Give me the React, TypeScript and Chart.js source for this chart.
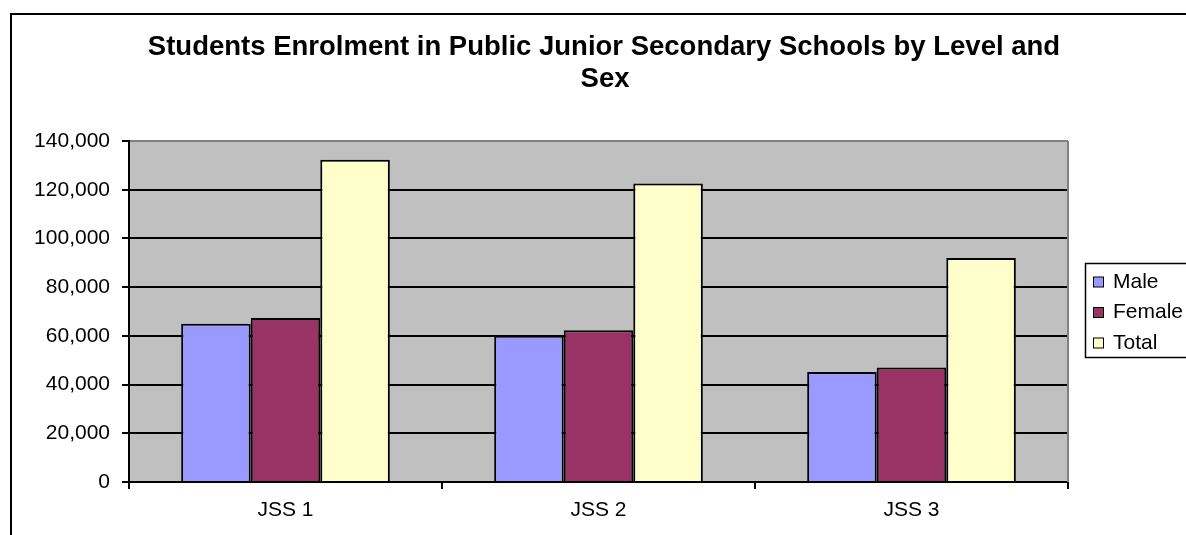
import React, { useEffect, useRef } from "react";
import { Chart, registerables } from "chart.js";

Chart.register(...registerables);

const categories = ["JSS 1", "JSS 2", "JSS 3"];
const seriesNames = ["Male", "Female", "Total"];
const maleValues = [65000, 60000, 45200];
const femaleValues = [67300, 62300, 47000];
const totalValues = [132300, 122600, 92000];
const seriesColors = ["#9999FF", "#993366", "#FFFFCC"];
const titleLines = [
  "Students Enrolment in Public Junior Secondary Schools by Level and",
  "Sex",
];
const yMin = 0;
const yMax = 140000;
const yStep = 20000;

const FONT = '"Liberation Sans", Arial, sans-serif';

const framePlugin = {
  id: "frame",
  beforeDraw(chart: any) {
    const { ctx, chartArea: a } = chart;
    ctx.save();
    ctx.fillStyle = "#ffffff";
    ctx.fillRect(0, 0, chart.width, chart.height);
    ctx.fillStyle = "#c0c0c0";
    ctx.fillRect(a.left, a.top, a.right - a.left, a.bottom - a.top);
    // outer chart frame
    ctx.strokeStyle = "#000";
    ctx.lineWidth = 2;
    ctx.beginPath();
    ctx.moveTo(11, chart.height + 5);
    ctx.lineTo(11, 14);
    ctx.lineTo(chart.width + 5, 14);
    ctx.stroke();
    // title
    ctx.fillStyle = "#000";
    ctx.font = `bold 27.5px ${FONT}`;
    ctx.textAlign = "center";
    ctx.textBaseline = "alphabetic";
    ctx.fillText(titleLines[0], 604, 55);
    ctx.fillText(titleLines[1], 605, 87);
    ctx.restore();
  },
  afterDraw(chart: any) {
    const { ctx, chartArea: a } = chart;
    ctx.save();
    // plot right border (gray)
    ctx.strokeStyle = "#808080";
    ctx.lineWidth = 2;
    ctx.beginPath();
    ctx.moveTo(a.right, a.top);
    ctx.lineTo(a.right, a.bottom);
    ctx.stroke();
    // legend
    const lx = 1085.5;
    const ly = 263.5;
    ctx.fillStyle = "#fff";
    ctx.fillRect(lx, ly, 200, 94);
    ctx.strokeStyle = "#000";
    ctx.lineWidth = 1.5;
    ctx.strokeRect(lx, ly, 200, 94);
    ctx.font = `21px ${FONT}`;
    ctx.textAlign = "left";
    ctx.textBaseline = "alphabetic";
    chart.data.datasets.forEach((ds: any, i: number) => {
      const base = 287.5 + i * 30.5;
      ctx.fillStyle = ds.backgroundColor;
      ctx.fillRect(1093.5, base - 10.5, 10, 10);
      ctx.lineWidth = 1;
      ctx.strokeStyle = "#000";
      ctx.strokeRect(1093.5, base - 10.5, 10, 10);
      ctx.fillStyle = "#000";
      ctx.fillText(ds.label, 1113, base);
    });
    ctx.restore();
  },
};

export default function App() {
  const ref = useRef<HTMLCanvasElement | null>(null);
  useEffect(() => {
    if (!ref.current) return;
    const values = [maleValues, femaleValues, totalValues];
    const chart = new Chart(ref.current, {
      type: "bar",
      data: {
        labels: categories,
        datasets: seriesNames.map((name, i) => ({
          label: name,
          data: values[i],
          backgroundColor: seriesColors[i],
          borderColor: "#000",
          borderWidth: 2,
          categoryPercentage: 0.6667,
          barPercentage: 1,
        })),
      },
      options: {
        responsive: false,
        animation: false,
        devicePixelRatio: 1,
        layout: { padding: { left: 0, top: 141, right: 118, bottom: 0 } },
        plugins: {
          legend: { display: false },
          tooltip: { enabled: false },
          title: { display: false },
        },
        scales: {
          x: {
            offset: true,
            grid: {
              offset: true,
              drawOnChartArea: false,
              drawTicks: true,
              tickLength: 7,
              color: "#000",
              lineWidth: 2,
            },
            border: { display: true, color: "#000", width: 2 },
            ticks: {
              color: "#000",
              font: { family: FONT, size: 21 },
              padding: 9,
            },
            afterFit(axis: any) {
              axis.height = 53;
            },
          },
          y: {
            min: yMin,
            max: yMax,
            ticks: {
              stepSize: yStep,
              color: "#000",
              font: { family: FONT, size: 21 },
              padding: 12,
              callback: (v: any) => Number(v).toLocaleString("en-US"),
            },
            grid: {
              color: (c: any) => (c.tick && c.tick.value === yMax ? "#808080" : "#000"),
              tickColor: "#000",
              lineWidth: 2,
              tickLength: 7,
            },
            border: { display: true, color: "#000", width: 2 },
            afterFit(axis: any) {
              axis.width = 129;
            },
          },
        },
      },
      plugins: [framePlugin],
    });
    return () => chart.destroy();
  }, []);
  return (
    <div style={{ position: "fixed", left: 0, top: 0, width: 1186, height: 535, background: "#fff" }}>
      <canvas ref={ref} width={1186} height={535} style={{ width: 1186, height: 535, display: "block" }} />
    </div>
  );
}
